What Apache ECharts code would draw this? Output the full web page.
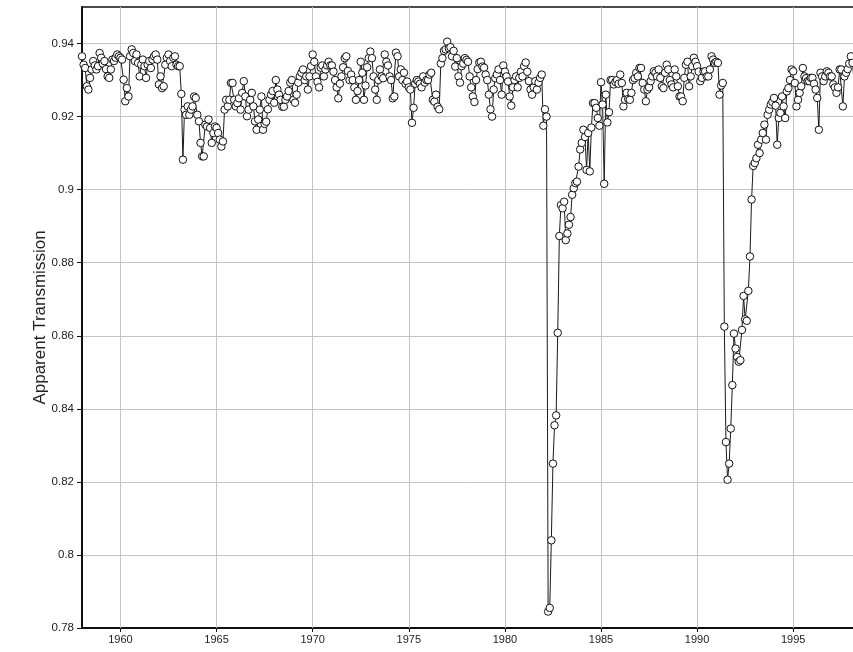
<!DOCTYPE html>
<html>
<head>
<meta charset="utf-8">
<script src="https://cdn.jsdelivr.net/npm/echarts@6/dist/echarts.min.js"></script>
<style>
html,body{margin:0;padding:0;background:#fff;}
#chart{width:853px;height:652px;}
</style>
</head>
<body>
<div id="chart"></div>
<script>
// Monthly apparent transmission, starting January 1958
const startYear = 1958;
const trans1958_1962 = [
  0.9365, 0.9342, 0.9333, 0.9283, 0.9274, 0.9306, 0.9329, 0.9352, 0.9340, 0.9329, 0.9338, 0.9374,
  0.9361, 0.9345, 0.9352, 0.9330, 0.9310, 0.9306, 0.9329, 0.9356, 0.9352, 0.9361, 0.9370, 0.9365,
  0.9361, 0.9356, 0.9301, 0.9242, 0.9278, 0.9255, 0.9365, 0.9384, 0.9374, 0.9352, 0.9370, 0.9347,
  0.9310, 0.9342, 0.9356, 0.9338, 0.9306, 0.9342, 0.9352, 0.9333, 0.9356, 0.9365, 0.9370, 0.9356,
  0.9288, 0.9310, 0.9278, 0.9283, 0.9342, 0.9361, 0.9370, 0.9352, 0.9338, 0.9361, 0.9365, 0.9342
];
const trans1963_1967 = [
  0.9338, 0.9338, 0.9262, 0.9082, 0.9219, 0.9205, 0.9228, 0.9205, 0.9219, 0.9228, 0.9255, 0.9251,
  0.9205, 0.9187, 0.9128, 0.9091, 0.9091, 0.9178, 0.9173, 0.9192, 0.9169, 0.9128, 0.9155, 0.9173,
  0.9169, 0.9155, 0.9137, 0.9118, 0.9132, 0.9219, 0.9246, 0.9228, 0.9246, 0.9292, 0.9292, 0.9246,
  0.9228, 0.9237, 0.9250, 0.9219, 0.9265, 0.9297, 0.9255, 0.9201, 0.9219, 0.9246, 0.9265, 0.9228,
  0.9187, 0.9164, 0.9192, 0.9219, 0.9255, 0.9164, 0.9180, 0.9186, 0.9220, 0.9246, 0.9260, 0.9270
];
const trans1968_1972 = [
  0.9238, 0.9300, 0.9274, 0.9260, 0.9246, 0.9227, 0.9227, 0.9246, 0.9255, 0.9270, 0.9293, 0.9300,
  0.9246, 0.9238, 0.9260, 0.9293, 0.9310, 0.9320, 0.9329, 0.9300, 0.9310, 0.9274, 0.9310, 0.9338,
  0.9370, 0.9350, 0.9310, 0.9295, 0.9280, 0.9334, 0.9340, 0.9310, 0.9329, 0.9340, 0.9350, 0.9340,
  0.9340, 0.9323, 0.9300, 0.9280, 0.9250, 0.9290, 0.9310, 0.9335, 0.9360, 0.9365, 0.9325, 0.9300,
  0.9315, 0.9300, 0.9280, 0.9246, 0.9270, 0.9300, 0.9350, 0.9320, 0.9246, 0.9285, 0.9335, 0.9360
];
const trans1973_1977 = [
  0.9378, 0.9360, 0.9310, 0.9274, 0.9246, 0.9300, 0.9329, 0.9310, 0.9305, 0.9370, 0.9350, 0.9340,
  0.9310, 0.9300, 0.9250, 0.9255, 0.9375, 0.9365, 0.9310, 0.9329, 0.9300, 0.9320, 0.9290, 0.9296,
  0.9280, 0.9274, 0.9183, 0.9224, 0.9290, 0.9300, 0.9296, 0.9290, 0.9280, 0.9310, 0.9293, 0.9300,
  0.9300, 0.9315, 0.9320, 0.9246, 0.9241, 0.9260, 0.9227, 0.9220, 0.9345, 0.9360, 0.9380, 0.9384,
  0.9405, 0.9387, 0.9390, 0.9365, 0.9380, 0.9337, 0.9360, 0.9310, 0.9293, 0.9338, 0.9345, 0.9360
];
const trans1978_1982 = [
  0.9355, 0.9350, 0.9310, 0.9280, 0.9255, 0.9240, 0.9300, 0.9330, 0.9348, 0.9350, 0.9337, 0.9334,
  0.9315, 0.9300, 0.9260, 0.9220, 0.9200, 0.9274, 0.9305, 0.9315, 0.9329, 0.9300, 0.9260, 0.9340,
  0.9323, 0.9310, 0.9296, 0.9255, 0.9230, 0.9280, 0.9300, 0.9310, 0.9280, 0.9306, 0.9323, 0.9310,
  0.9338, 0.9348, 0.9323, 0.9297, 0.9274, 0.9260, 0.9280, 0.9297, 0.9274, 0.9293, 0.9306, 0.9315,
  0.9175, 0.9220, 0.9200, 0.7845, 0.7855, 0.8040, 0.8250, 0.8355, 0.8382, 0.8608, 0.8873, 0.8958
];
const trans1983_1987 = [
  0.8949, 0.8967, 0.8862, 0.8880, 0.8904, 0.8925, 0.8986, 0.9004, 0.9018, 0.9022, 0.9063, 0.9110,
  0.9128, 0.9164, 0.9144, 0.9054, 0.9155, 0.9050, 0.9170, 0.9237, 0.9237, 0.9224, 0.9196, 0.9175,
  0.9294, 0.9233, 0.9016, 0.9260, 0.9184, 0.9212, 0.9300, 0.9300, 0.9288, 0.9295, 0.9300, 0.9290,
  0.9315, 0.9292, 0.9228, 0.9246, 0.9265, 0.9248, 0.9246, 0.9265, 0.9300, 0.9305, 0.9320, 0.9310,
  0.9333, 0.9333, 0.9292, 0.9274, 0.9242, 0.9274, 0.9280, 0.9297, 0.9310, 0.9324, 0.9320, 0.9310
];
const trans1988_1992 = [
  0.9329, 0.9306, 0.9283, 0.9278, 0.9320, 0.9342, 0.9329, 0.9300, 0.9288, 0.9280, 0.9329, 0.9310,
  0.9283, 0.9255, 0.9255, 0.9242, 0.9306, 0.9342, 0.9350, 0.9283, 0.9310, 0.9338, 0.9361, 0.9350,
  0.9338, 0.9323, 0.9297, 0.9306, 0.9323, 0.9324, 0.9310, 0.9310, 0.9329, 0.9365, 0.9356, 0.9347,
  0.9350, 0.9347, 0.9260, 0.9285, 0.9292, 0.8625, 0.8309, 0.8206, 0.8250, 0.8346, 0.8465, 0.8606,
  0.8565, 0.8542, 0.8529, 0.8533, 0.8616, 0.8709, 0.8645, 0.8641, 0.8723, 0.8817, 0.8973, 0.9065
];
const trans1993_1998 = [
  0.9073, 0.9086, 0.9123, 0.9100, 0.9137, 0.9155, 0.9178, 0.9137, 0.9205, 0.9219, 0.9233, 0.9240,
  0.9251, 0.9230, 0.9123, 0.9196, 0.9210, 0.9255, 0.9228, 0.9196, 0.9269, 0.9278, 0.9300, 0.9329,
  0.9324, 0.9292, 0.9228, 0.9246, 0.9265, 0.9283, 0.9333, 0.9310, 0.9305, 0.9297, 0.9297, 0.9306,
  0.9306, 0.9290, 0.9274, 0.9251, 0.9164, 0.9320, 0.9310, 0.9297, 0.9310, 0.9324, 0.9320, 0.9310,
  0.9310, 0.9288, 0.9280, 0.9265, 0.9280, 0.9329, 0.9329, 0.9228, 0.9310, 0.9320, 0.9330, 0.9345,
  0.9365, 0.9347, 0.9297
];
const xTicks = [1960, 1965, 1970, 1975, 1980, 1985, 1990, 1995];
const yTicks = [0.78, 0.8, 0.82, 0.84, 0.86, 0.88, 0.9, 0.92, 0.94];
const yTitle = 'Apparent Transmission';

const allValues = [].concat(trans1958_1962, trans1963_1967, trans1968_1972,
  trans1973_1977, trans1978_1982, trans1983_1987, trans1988_1992, trans1993_1998);
const seriesData = allValues.map((v, i) => [startYear + i / 12, v]);

const chart = echarts.init(document.getElementById('chart'), null, {renderer: 'canvas'});
const FONT = '"Liberation Sans", Arial, Helvetica, sans-serif';
const gridColor = '#c4c4c4';

chart.setOption({
  animation: false,
  backgroundColor: '#ffffff',
  grid: {left: 82, right: 0, top: 7, bottom: 24, containLabel: false},
  xAxis: [{
    type: 'value', min: 1958, max: 1998.11,
    axisLine: {show: true, onZero: false, lineStyle: {color: '#111', width: 2}},
    axisTick: {show: true, length: 4, customValues: xTicks, lineStyle: {color: '#111'}},
    axisLabel: {customValues: xTicks, color: '#222', fontFamily: FONT, fontSize: 11, margin: 6,
      formatter: v => String(Math.round(v))},
    splitLine: {show: false}
  }, {
    type: 'value', position: 'top', min: 1958, max: 1998.11,
    axisLine: {show: true, onZero: false, lineStyle: {color: '#111', width: 1.5}},
    axisTick: {show: false}, axisLabel: {show: false}, splitLine: {show: false}
  }],
  yAxis: {
    type: 'value', min: 0.78, max: 0.95, interval: 0.02,
    name: yTitle, nameLocation: 'middle', nameGap: 33, nameMoveOverlap: false,
    nameTextStyle: {fontFamily: FONT, fontSize: 17, color: '#222'},
    axisLine: {show: true, onZero: false, lineStyle: {color: '#111', width: 2}},
    axisTick: {show: true, length: 5, customValues: yTicks, lineStyle: {color: '#111'}},
    axisLabel: {customValues: yTicks, color: '#222', fontFamily: FONT, fontSize: 11.5, margin: 8},
    splitLine: {show: true, lineStyle: {color: gridColor, width: 1}}
  },
  series: [{
    type: 'line',
    xAxisIndex: 0,
    data: seriesData,
    showSymbol: true,
    showAllSymbol: true,
    symbol: 'circle',
    symbolSize: 7.5,
    lineStyle: {color: '#1a1a1a', width: 1},
    itemStyle: {color: '#ffffff', borderColor: '#111', borderWidth: 1},
    clip: true,
    silent: true,
    z: 3,
    markLine: {
      silent: true, z: 1, symbol: ['none', 'none'], animation: false,
      label: {show: false},
      lineStyle: {color: gridColor, width: 1, type: 'solid'},
      emphasis: {disabled: true},
      data: xTicks.map(v => ({xAxis: v}))
    }
  }]
});
</script>
</body>
</html>
